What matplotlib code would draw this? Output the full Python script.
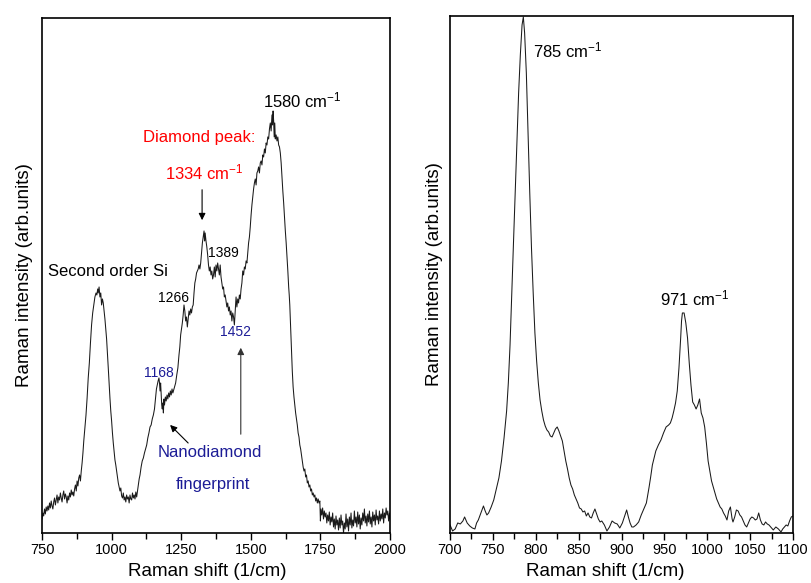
import matplotlib
matplotlib.use('Agg')
import matplotlib.pyplot as plt
from matplotlib.ticker import MultipleLocator

plt.rcParams['font.family'] = ['Liberation Sans', 'DejaVu Sans']
plt.rcParams['mathtext.fontset'] = 'custom'
plt.rcParams['mathtext.rm'] = 'Liberation Sans'
plt.rcParams['mathtext.it'] = 'Liberation Sans:italic'

# left spectrum (nanodiamond film)
shift_left = [750, 753, 756, 759, 762, 765, 768, 771, 774, 777, 780, 783, 786, 789, 792, 795, 798,
              801, 804, 807, 810, 813, 816, 819, 822, 825, 828, 831, 834, 837, 840, 843, 846, 849,
              852, 855, 858, 861, 864, 867, 870, 873, 876, 879, 882, 885, 888, 891, 894, 897, 900,
              904, 908, 912, 916, 920, 924, 928, 932, 936, 940, 944, 947, 950, 952, 955, 958, 961,
              964, 967, 970, 973, 976, 979, 982, 985, 988, 991, 994, 997, 1000, 1003, 1006, 1009,
              1012, 1015, 1018, 1021, 1024, 1027, 1030, 1033, 1036, 1039, 1042, 1045, 1048, 1051,
              1054, 1057, 1060, 1063, 1066, 1069, 1072, 1075, 1078, 1081, 1084, 1087, 1090, 1093,
              1096, 1099, 1102, 1106, 1110, 1114, 1118, 1122, 1126, 1130, 1134, 1138, 1142, 1146,
              1150, 1154, 1158, 1161, 1164, 1167, 1170, 1172, 1174, 1176, 1178, 1180, 1182, 1184,
              1186, 1188, 1190, 1193, 1196, 1199, 1202, 1205, 1208, 1211, 1214, 1217, 1220, 1223,
              1226, 1230, 1234, 1238, 1242, 1245, 1248, 1251, 1254, 1257, 1260, 1263, 1266, 1269,
              1272, 1275, 1278, 1281, 1284, 1287, 1290, 1293, 1296, 1299, 1302, 1305, 1308, 1311,
              1314, 1317, 1320, 1323, 1326, 1329, 1332, 1334, 1336, 1339, 1342, 1345, 1348, 1351,
              1354, 1357, 1360, 1363, 1366, 1369, 1372, 1375, 1378, 1381, 1384, 1387, 1390, 1393,
              1396, 1399, 1402, 1405, 1408, 1411, 1414, 1417, 1420, 1423, 1426, 1429, 1432, 1435,
              1438, 1441, 1444, 1447, 1450, 1453, 1456, 1459, 1462, 1465, 1468, 1471, 1474, 1477,
              1480, 1483, 1486, 1489, 1492, 1495, 1498, 1501, 1504, 1507, 1510, 1513, 1516, 1519,
              1522, 1525, 1528, 1531, 1534, 1537, 1540, 1543, 1546, 1549, 1552, 1555, 1558, 1561,
              1564, 1567, 1570, 1573, 1576, 1578, 1580, 1582, 1584, 1586, 1588, 1591, 1594, 1597,
              1600, 1603, 1606, 1609, 1612, 1615, 1618, 1621, 1624, 1627, 1630, 1633, 1636, 1638,
              1640, 1643, 1646, 1649, 1652, 1655, 1658, 1661, 1664, 1667, 1670, 1673, 1676, 1679,
              1682, 1685, 1688, 1691, 1694, 1697, 1700, 1703, 1706, 1709, 1712, 1715, 1718, 1721,
              1724, 1727, 1730, 1733, 1736, 1739, 1742, 1745, 1748, 1750, 1752, 1755, 1758, 1761,
              1764, 1767, 1770, 1773, 1776, 1779, 1782, 1785, 1788, 1791, 1794, 1797, 1800, 1803,
              1806, 1809, 1812, 1815, 1818, 1821, 1824, 1827, 1830, 1833, 1836, 1839, 1842, 1845,
              1848, 1851, 1854, 1857, 1860, 1863, 1866, 1869, 1872, 1875, 1878, 1881, 1884, 1887,
              1890, 1893, 1896, 1899, 1902, 1905, 1908, 1911, 1914, 1917, 1920, 1923, 1926, 1929,
              1932, 1935, 1938, 1941, 1944, 1947, 1950, 1953, 1956, 1959, 1962, 1965, 1968, 1971,
              1974, 1977, 1980, 1983, 1986, 1989, 1992, 1995, 1998, 2000]
int_left = [14, 20, 17, 24, 19, 26, 22, 27, 23, 30, 25, 32, 27, 24, 31, 35, 28,
            33, 38, 30, 36, 33, 40, 35, 31, 38, 42, 34, 39, 36, 30, 37, 33, 40,
            36, 43, 38, 41, 37, 44, 48, 42, 52, 47, 55, 58, 52, 62, 70, 80, 92,
            105, 118, 135, 155, 170, 190, 208, 220, 228, 236, 240, 238, 244, 240, 246, 236, 240,
            228, 234, 230, 222, 214, 204, 194, 180, 165, 150, 135, 122, 112, 100, 90, 82,
            73, 68, 62, 56, 50, 46, 42, 45, 37, 35, 40, 33, 36, 31,
            38, 34, 36, 30, 38, 34, 33, 40, 35, 38, 34, 41, 36, 42,
            48, 54, 58, 66, 72, 75, 80, 84, 88, 95, 100, 106, 108, 114,
            118, 124, 136, 144, 148, 152, 155, 150, 142, 150, 138, 128, 124, 130,
            120, 134, 128, 136, 132, 138, 134, 140, 136, 142, 138, 144, 140, 143,
            146, 150, 158, 165, 178, 186, 198, 204, 210, 218, 228, 222, 212, 216,
            206, 214, 222, 218, 224, 220, 226, 228, 240, 250, 254, 260, 262, 264,
            268, 264, 270, 280, 290, 296, 302, 292, 300, 292, 286, 278, 268, 262,
            266, 258, 262, 254, 258, 266, 256, 268, 262, 270, 264, 258, 268, 256,
            250, 244, 246, 236, 238, 232, 226, 230, 222, 226, 218, 222, 212, 220,
            216, 208, 222, 236, 226, 234, 230, 238, 234, 244, 250, 262, 258, 266,
            264, 272, 270, 280, 290, 296, 306, 318, 328, 336, 344, 350, 354, 348,
            360, 362, 366, 360, 370, 372, 368, 378, 376, 384, 380, 390, 388, 396,
            394, 404, 410, 402, 418, 408, 422, 412, 396, 410, 394, 398, 392, 396,
            388, 386, 380, 370, 356, 342, 330, 316, 302, 290, 276, 262, 246, 238,
            228, 206, 184, 162, 146, 136, 128, 120, 114, 108, 100, 96, 88, 84,
            78, 72, 66, 62, 64, 56, 58, 50, 52, 46, 48, 42, 44, 38,
            40, 36, 38, 32, 35, 30, 34, 30, 32, 12, 24, 18, 25, 14,
            22, 16, 20, 10, 18, 12, 21, 8, 16, 11, 20, 6, 14, 4,
            17, 8, 13, 3, 15, 5, 18, 8, 12, 0, 10, 4, 19, 6,
            14, 2, 16, 8, 20, 5, 13, 7, 22, 10, 16, 6, 21, 9,
            18, 4, 15, 8, 20, 12, 24, 10, 17, 7, 19, 11, 22, 9,
            16, 6, 21, 12, 18, 8, 23, 13, 17, 9, 22, 12, 19, 14,
            24, 10, 20, 15, 25, 18, 22, 12, 20, 14]

# right spectrum (Si substrate region)
shift_right = [700, 703, 706, 709, 712, 715, 717, 720, 723, 726, 729, 731, 733, 736, 739, 741, 743,
               745, 748, 751, 754, 757, 760, 763, 766, 768, 770, 772, 774, 776, 778, 780, 782, 784,
               785.5, 787, 789, 791, 793, 795, 797, 799, 801, 803, 805, 807, 809, 811, 813, 815,
               817, 819, 821, 823, 825, 827, 829, 831, 833, 835, 837, 839, 841, 843, 845, 847, 849,
               851, 853, 855, 857, 859, 861, 863, 865, 867, 869, 871, 873, 875, 877, 880, 883, 886,
               889, 892, 895, 898, 901, 904, 906, 908, 910, 912, 914, 917, 920, 923, 926, 929, 932,
               934, 936, 938, 940, 943, 946, 949, 952, 955, 957, 959, 961, 963, 965, 967, 969, 970,
               971, 973, 975, 977, 979, 981, 983, 985, 987, 989, 991, 993, 995, 997, 999, 1001,
               1003, 1005, 1007, 1009, 1011, 1013, 1015, 1017, 1019, 1021, 1023, 1025, 1027, 1029,
               1030, 1032, 1034, 1036, 1038, 1040, 1042, 1044, 1046, 1048, 1050, 1052, 1054, 1056,
               1058, 1060, 1062, 1064, 1066, 1068, 1070, 1072, 1074, 1077, 1080, 1083, 1086, 1088,
               1090, 1092, 1094, 1096, 1098, 1100]
int_right = [8, 2, 4, 10, 9, 12, 16, 10, 7, 5, 4, 10, 13, 20, 27, 22, 18,
             20, 26, 33, 44, 55, 72, 95, 122, 150, 188, 240, 290, 340, 390, 440, 478, 508,
             516, 500, 460, 400, 340, 285, 240, 200, 172, 150, 133, 122, 113, 107, 103, 101,
             97, 96, 100, 104, 106, 102, 97, 92, 82, 72, 64, 55, 48, 44, 38, 34, 30,
             25, 24, 21, 22, 17, 20, 16, 15, 20, 24, 19, 14, 11, 12, 8, 2, 6,
             12, 10, 9, 5, 10, 18, 23, 16, 10, 6, 6, 8, 11, 18, 24, 30, 45,
             56, 68, 75, 82, 88, 93, 100, 106, 108, 110, 115, 122, 130, 142, 165, 195, 212,
             220, 220, 210, 195, 170, 148, 131, 128, 124, 128, 134, 120, 115, 106, 90, 72,
             62, 52, 46, 40, 34, 30, 26, 24, 20, 17, 13, 22, 26, 14,
             11, 16, 23, 22, 18, 16, 12, 8, 6, 10, 14, 16, 15, 13,
             14, 20, 13, 9, 8, 11, 9, 8, 6, 3, 6, 4, 1, 4,
             6, 8, 7, 12, 16, 17]

blue = '#1c1c96'
line_kw = dict(color='#1a1a1a', lw=0.75)

fig = plt.figure(figsize=(8.11, 5.83), dpi=100)
ax1 = fig.add_axes([0.0518, 0.0858, 0.4291, 0.8834])
ax2 = fig.add_axes([0.5549, 0.0858, 0.4229, 0.8868])

ax1.plot(shift_left, int_left, **line_kw)
ax1.set_xlim(750, 2000)
ax1.set_ylim(0, 515)
ax1.xaxis.set_major_locator(MultipleLocator(250))
ax1.xaxis.set_minor_locator(MultipleLocator(125))

ax2.plot(shift_right, int_right, **line_kw)
ax2.set_xlim(700, 1100)
ax2.set_ylim(0, 517)
ax2.xaxis.set_major_locator(MultipleLocator(50))
ax2.xaxis.set_minor_locator(MultipleLocator(25))

for ax in (ax1, ax2):
    ax.set_yticks([])
    ax.tick_params(axis='x', which='major', direction='out', length=5, width=1, labelsize=10.5, pad=2.5)
    ax.tick_params(axis='x', which='minor', direction='out', length=4, width=1)
    for sp in ax.spines.values():
        sp.set_linewidth(1.2)
    ax.set_xlabel('Raman shift (1/cm)', fontsize=13.5)
    ax.set_ylabel('Raman intensity (arb.units)', fontsize=13.5)

ax1.yaxis.set_label_coords(-0.026, 0.5)
ax2.yaxis.set_label_coords(-0.020, 0.5)
ax1.xaxis.set_label_coords(0.476, -0.058)
ax2.xaxis.set_label_coords(0.452, -0.058)

# left annotations
ax1.text(1544, 433, '1580 cm$^{-1}$', fontsize=12, va='center')
ax1.text(1113, 395, 'Diamond peak:', fontsize=12, color='red', va='center')
ax1.text(1192, 361, '1334 cm$^{-1}$', fontsize=12, color='red', va='center')
ax1.annotate('', xy=(1325, 310), xytext=(1325, 346),
             arrowprops=dict(arrowstyle='-|>', color='black', lw=0.8, mutation_scale=10))
ax1.text(1346, 280, '1389', fontsize=10, va='center')
ax1.text(771, 261, 'Second order Si', fontsize=12, va='center')
ax1.text(1167, 235, '1266', fontsize=10, va='center')
ax1.text(1116, 160, '1168', fontsize=10, color=blue, va='center')
ax1.text(1389, 201, '1452', fontsize=10, color=blue, va='center')
ax1.text(1167, 80, 'Nanodiamond', fontsize=12, color=blue, va='center')
ax1.text(1231, 48, 'fingerprint', fontsize=12, color=blue, va='center')
ax1.annotate('', xy=(1203, 110), xytext=(1282, 88),
             arrowprops=dict(arrowstyle='-|>', color='black', lw=0.8, mutation_scale=10))
ax1.annotate('', xy=(1464, 188), xytext=(1464, 96),
             arrowprops=dict(arrowstyle='-|>', color='#333333', lw=0.8, mutation_scale=10))

# right annotations
ax2.text(797, 483, '785 cm$^{-1}$', fontsize=12, va='center')
ax2.text(945, 235, '971 cm$^{-1}$', fontsize=12, va='center')

fig.savefig('out.png', dpi=100)
